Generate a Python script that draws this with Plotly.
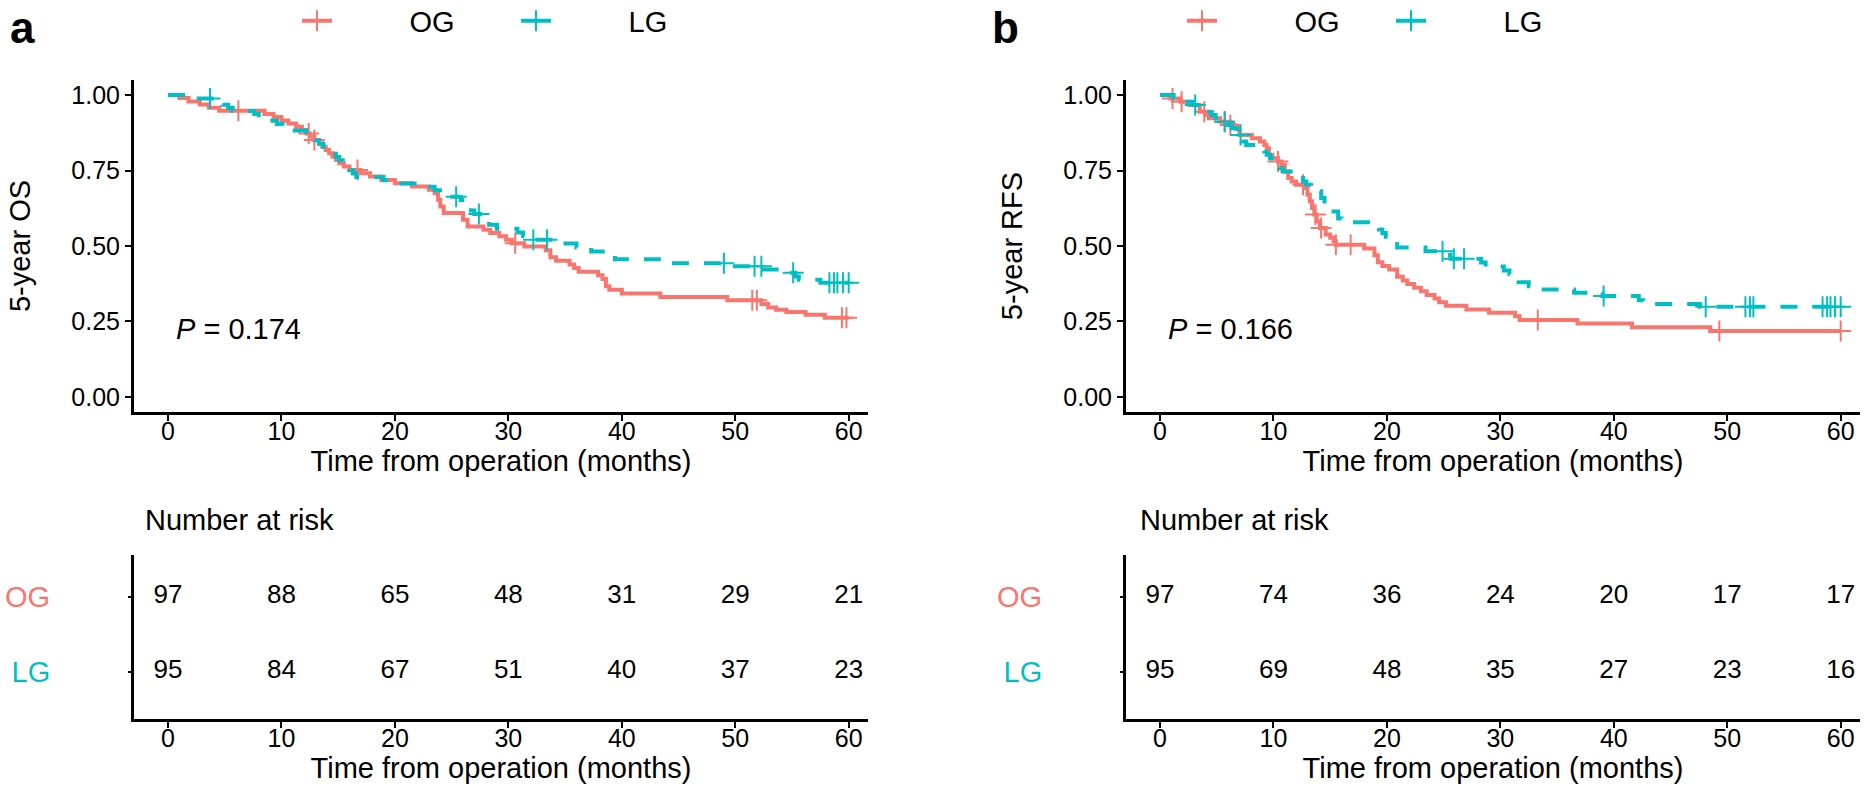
import numpy as np
import plotly.graph_objects as go

RED = "#F8766D"
TEAL = "#00BFC4"
FONT = "Liberation Sans, Arial, sans-serif"

groups = ["OG", "LG"]
x_title = "Time from operation (months)"
y_titles = ["5-year OS", "5-year RFS"]
panel_letters = ["a", "b"]
p_values = ["0.174", "0.166"]
y_ticks = [0, 0.25, 0.5, 0.75, 1.0]
x_ticks = [0, 10, 20, 30, 40, 50, 60]
end_time = 60

# ---- Panel a: overall survival (step times, survival after step, censor times)
os_og_t = [1.0, 1.8, 2.8, 3.6, 4.5, 8.5, 9.3, 10.0, 10.6, 11.3, 11.8, 12.2, 12.5, 12.9, 13.3,
           13.6, 13.9, 14.2, 14.5, 14.8, 15.1, 15.5, 16.0, 17.0, 17.8, 18.8, 20.0, 21.5, 23.0,
           23.5, 23.8, 24.0, 24.3, 26.0, 26.4, 27.8, 28.4, 29.2, 29.8, 30.3, 31.4, 33.3, 33.7,
           34.2, 35.4, 35.8, 36.2, 37.9, 38.3, 38.6, 38.9, 40.0, 43.4, 49.3, 52.3, 52.9, 53.6,
           54.5, 56.2, 57.9]
os_og_s = [0.990, 0.979, 0.969, 0.958, 0.948, 0.937, 0.927, 0.916, 0.906, 0.895, 0.884, 0.873,
           0.862, 0.851, 0.840, 0.829, 0.818, 0.807, 0.796, 0.785, 0.774, 0.763, 0.752, 0.741,
           0.730, 0.719, 0.708, 0.697, 0.686, 0.675, 0.653, 0.631, 0.609, 0.587, 0.565, 0.554,
           0.543, 0.532, 0.521, 0.509, 0.498, 0.486, 0.463, 0.451, 0.439, 0.427, 0.415, 0.403,
           0.391, 0.367, 0.355, 0.343, 0.331, 0.320, 0.308, 0.296, 0.289, 0.281, 0.272, 0.262]
os_og_cens = [6.2, 12.4, 12.9, 16.7, 30.6, 51.5, 51.9, 59.4, 59.8]

os_lg_t = [2.3, 4.8, 5.3, 5.7, 7.6, 8.0, 8.4, 9.6, 10.1, 10.5, 12.2, 12.6, 13.0, 13.3, 13.7, 14.0,
           14.4, 14.8, 15.1, 15.4, 15.7, 16.0, 16.3, 16.6, 19.0, 20.3, 22.3, 23.5, 24.4, 24.8,
           25.8, 26.3, 26.7, 27.0, 27.5, 27.8, 28.3, 29.0, 30.8, 31.3, 31.7, 34.5, 36.0, 37.3,
           38.7, 39.4, 44.4, 49.2, 52.5, 54.0, 55.3, 55.6, 57.5]
os_lg_s = [0.989, 0.968, 0.958, 0.947, 0.937, 0.926, 0.915, 0.904, 0.894, 0.883, 0.872, 0.861,
           0.850, 0.839, 0.828, 0.817, 0.806, 0.795, 0.784, 0.773, 0.762, 0.751, 0.740, 0.729,
           0.718, 0.707, 0.696, 0.685, 0.674, 0.663, 0.652, 0.641, 0.618, 0.606, 0.594, 0.582,
           0.570, 0.557, 0.545, 0.533, 0.521, 0.508, 0.495, 0.482, 0.469, 0.456, 0.443, 0.433,
           0.422, 0.411, 0.399, 0.388, 0.378]
os_lg_cens = [3.7, 25.4, 27.4, 32.2, 33.4, 49.0, 51.7, 52.3, 55.1, 58.3, 58.7, 59.0, 59.5, 60.0]

# ---- Panel b: recurrence-free survival
rfs_og_t = [0.9, 1.8, 2.6, 3.5, 4.0, 4.3, 5.3, 6.2, 6.6, 7.0, 8.1, 8.8, 9.2, 9.4, 9.6, 9.9, 10.4,
            10.7, 11.0, 11.3, 11.6, 12.0, 12.8, 13.0, 13.2, 13.4, 13.6, 13.8, 14.1, 14.6, 15.0,
            15.3, 15.5, 18.0, 18.9, 19.2, 19.6, 20.2, 20.9, 21.4, 21.8, 22.4, 23.0, 23.5, 24.2,
            24.6, 25.2, 27.0, 29.0, 31.3, 31.7, 36.8, 41.6, 48.5]
rfs_og_s = [0.989, 0.978, 0.967, 0.945, 0.934, 0.923, 0.912, 0.901, 0.890, 0.868, 0.857, 0.846,
            0.835, 0.824, 0.802, 0.791, 0.780, 0.769, 0.747, 0.725, 0.714, 0.703, 0.692, 0.670,
            0.648, 0.626, 0.604, 0.582, 0.560, 0.538, 0.527, 0.516, 0.504, 0.492, 0.469, 0.446,
            0.434, 0.422, 0.398, 0.386, 0.374, 0.362, 0.350, 0.338, 0.326, 0.314, 0.302, 0.290,
            0.279, 0.267, 0.255, 0.243, 0.231, 0.218]
rfs_og_cens = [1.1, 1.9, 3.9, 5.7, 6.2, 10.4, 12.6, 13.7, 14.2, 15.5, 16.8, 33.3, 49.3, 60.0]

rfs_lg_t = [1.2, 2.2, 2.9, 3.3, 3.8, 4.5, 4.9, 5.3, 5.8, 6.3, 6.8, 7.2, 7.6, 8.8, 9.2, 9.4, 9.7,
            10.2, 10.5, 10.8, 11.7, 12.3, 12.6, 12.9, 13.3, 13.8, 14.2, 14.5, 14.8, 15.1, 15.7,
            16.0, 18.9, 19.3, 19.6, 19.9, 20.3, 20.6, 20.9, 23.4, 25.3, 25.6, 28.3, 28.7, 30.3,
            30.8, 31.2, 31.6, 32.5, 33.5, 36.5, 39.0, 42.2, 42.6, 47.6]
rfs_lg_s = [0.989, 0.978, 0.967, 0.956, 0.945, 0.934, 0.923, 0.912, 0.901, 0.890, 0.868, 0.846,
            0.835, 0.824, 0.813, 0.802, 0.791, 0.780, 0.758, 0.747, 0.736, 0.725, 0.714, 0.703,
            0.692, 0.681, 0.659, 0.637, 0.626, 0.614, 0.591, 0.579, 0.567, 0.555, 0.543, 0.531,
            0.519, 0.507, 0.495, 0.483, 0.470, 0.458, 0.445, 0.432, 0.419, 0.406, 0.393, 0.380,
            0.367, 0.356, 0.345, 0.334, 0.320, 0.308, 0.299]
rfs_lg_cens = [3.1, 5.7, 7.1, 24.9, 25.9, 26.8, 39.1, 48.1, 51.6, 52.0, 52.3, 58.4, 58.8, 59.1,
               59.5, 60.0]

# ---- Number at risk tables
risk_times = [0, 10, 20, 30, 40, 50, 60]
os_risk_og = [97, 88, 65, 48, 31, 29, 21]
os_risk_lg = [95, 84, 67, 51, 40, 37, 23]
rfs_risk_og = [97, 74, 36, 24, 20, 17, 17]
rfs_risk_lg = [95, 69, 48, 35, 27, 23, 16]

W, H = 1876, 787
NB = "\u00a0"


def surv_at(times, surv, t):
    idx = np.searchsorted(np.asarray(times), np.asarray(t), side="right")
    vals = np.concatenate([[1.0], np.asarray(surv)])
    return vals[idx]


fig = go.Figure()

panels = [
    dict(curves=[(os_og_t, os_og_s, os_og_cens), (os_lg_t, os_lg_s, os_lg_cens)],
         risk=[os_risk_og, os_risk_lg], x="x", y="y", xr="x3", yr="y3", legend="legend"),
    dict(curves=[(rfs_og_t, rfs_og_s, rfs_og_cens), (rfs_lg_t, rfs_lg_s, rfs_lg_cens)],
         risk=[rfs_risk_og, rfs_risk_lg], x="x2", y="y2", xr="x4", yr="y4", legend="legend2"),
]
colors = [RED, TEAL]
dashes = ["solid", "17px,15px"]

for p in panels:
    for gi, (tt, ss, cc) in enumerate(p["curves"]):
        xs = [0] + list(tt) + [end_time]
        ys = [1.0] + list(ss) + [ss[-1]]
        fig.add_trace(go.Scatter(x=xs, y=ys, mode="lines", line_shape="hv",
                                 line=dict(color=colors[gi], width=4, dash=dashes[gi]),
                                 xaxis=p["x"], yaxis=p["y"], showlegend=False,
                                 hoverinfo="skip"))
        fig.add_trace(go.Scatter(x=cc, y=surv_at(tt, ss, cc), mode="markers",
                                 marker=dict(symbol="cross-thin", size=15, color=colors[gi],
                                             line=dict(color=colors[gi], width=2)),
                                 xaxis=p["x"], yaxis=p["y"], showlegend=False))
    for gi in range(2):
        fig.add_trace(go.Scatter(x=[None], y=[None], mode="lines+markers",
                                 name=NB * 9 + groups[gi],
                                 line=dict(color=colors[gi], width=4),
                                 marker=dict(symbol="cross-thin", size=15, color=colors[gi],
                                             line=dict(color=colors[gi], width=2)),
                                 xaxis=p["x"], yaxis=p["y"], legend=p["legend"]))
    # risk table
    for gi, vals in enumerate(p["risk"]):
        fig.add_trace(go.Scatter(x=risk_times, y=[2 - gi] * len(risk_times), mode="text",
                                 text=[str(v) for v in vals],
                                 textfont=dict(size=26, color="black", family=FONT),
                                 xaxis=p["xr"], yaxis=p["yr"], showlegend=False))

xa_dom = [134 / W, 868 / W]
xb_dom = [1126 / W, 1860 / W]
top_dom = [1 - 412 / H, 1 - 80 / H]
risk_dom = [1 - 719 / H, 1 - 555 / H]
xrange = [-3, 61.7]

axis_common = dict(showline=True, linecolor="black", linewidth=3, ticks="outside", ticklen=6,
                   tickwidth=2, tickcolor="black", showgrid=False, zeroline=False,
                   tickfont=dict(size=25, color="black", family=FONT))

def xax(dom, anchor):
    return dict(domain=dom, anchor=anchor, range=xrange, tickvals=x_ticks,
                ticklabelstandoff=-11,
                title=dict(text=x_title, font=dict(size=29, color="black", family=FONT), standoff=2),
                **axis_common)

def yax_top(anchor, title):
    return dict(domain=top_dom, anchor=anchor, range=[-0.05, 1.05], tickvals=y_ticks,
                tickformat=".2f",
                title=dict(text=title, font=dict(size=29, color="black", family=FONT), standoff=33),
                **axis_common)

def yax_risk(anchor):
    d = dict(axis_common)
    d["ticklen"] = 3
    d["tickfont"] = dict(size=29, family=FONT)
    return dict(domain=risk_dom, anchor=anchor, range=[0.373, 2.56], tickvals=[2, 1],
                ticktext=[f'<span style="color:{RED}">{groups[0]}</span>',
                          f'<span style="color:{TEAL}">{groups[1]}</span>'],
                ticklabelstandoff=72, **d)

legend_common = dict(orientation="h", font=dict(size=29, color="black", family=FONT),
                     bgcolor="rgba(0,0,0,0)", itemwidth=30, entrywidthmode="pixels",
                     yanchor="top", y=1.006, xanchor="left")

annotations = []
for i, (letter, ptxt, xref, yref, ax0) in enumerate(zip(panel_letters, p_values, ["x", "x2"],
                                                       ["y", "y2"], [8, 990])):
    annotations.append(dict(text=f"<b>{letter}</b>", xref="paper", yref="paper",
                            x=ax0 / W, y=1 - 27 / H, xanchor="left", yanchor="middle",
                            showarrow=False, font=dict(size=44, color="black", family=FONT)))
    annotations.append(dict(text=f"<i>P</i> = {ptxt}", xref=xref, yref=yref, x=0.5, y=0.225,
                            xanchor="left", yanchor="middle", showarrow=False,
                            font=dict(size=29, color="black", family=FONT)))
for x0 in [143, 1138]:
    annotations.append(dict(text="Number at risk", xref="paper", yref="paper", x=x0 / W,
                            y=1 - 520 / H, xanchor="left", yanchor="middle", showarrow=False,
                            font=dict(size=29, color="black", family=FONT)))

fig.update_layout(
    width=W, height=H, margin=dict(l=0, r=0, t=0, b=0, autoexpand=False),
    paper_bgcolor="white", plot_bgcolor="white",
    font=dict(family=FONT, color="black"),
    xaxis=xax(xa_dom, "y"), yaxis=yax_top("x", y_titles[0]),
    xaxis2=xax(xb_dom, "y2"), yaxis2=yax_top("x2", y_titles[1]),
    xaxis3=xax(xa_dom, "y3"), yaxis3=yax_risk("x3"),
    xaxis4=xax(xb_dom, "y4"), yaxis4=yax_risk("x4"),
    legend=dict(x=297 / W, entrywidth=174, **legend_common),
    legend2=dict(x=1182 / W, entrywidth=164, **legend_common),
    annotations=annotations,
    showlegend=True,
)

fig.write_html("out.html", config={"displayModeBar": False},
               post_script="document.body.style.margin='0px';"
                           "document.body.style.overflow='hidden';")
